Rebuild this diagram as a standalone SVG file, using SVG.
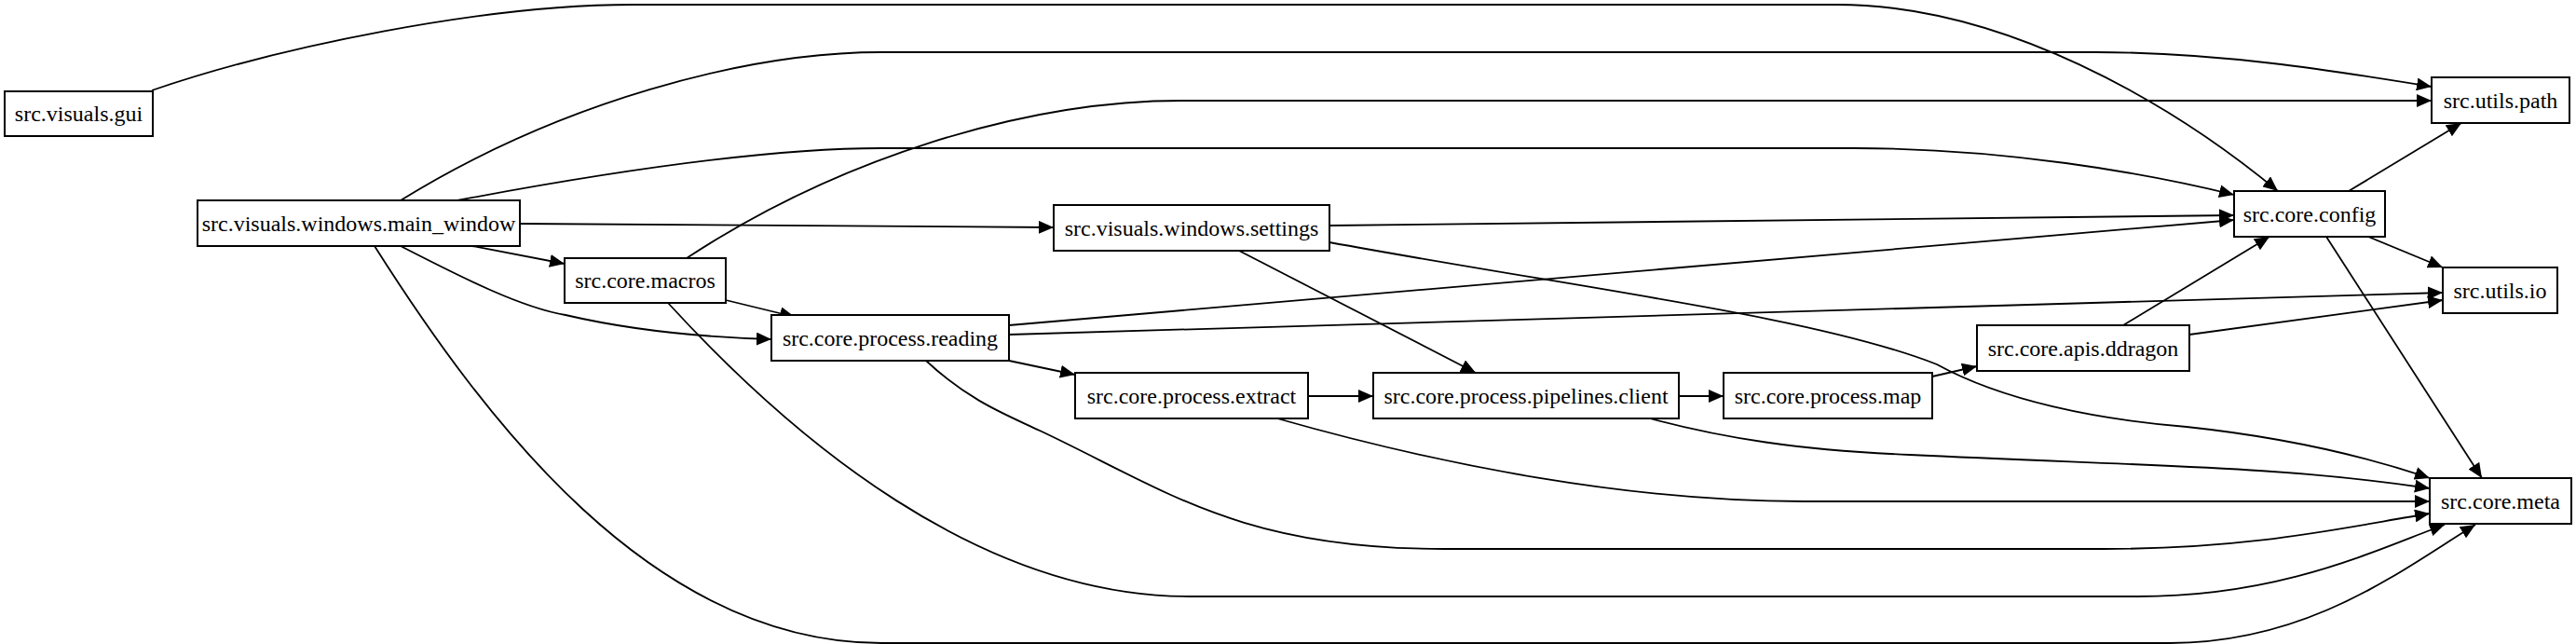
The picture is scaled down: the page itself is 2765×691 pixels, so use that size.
<svg xmlns="http://www.w3.org/2000/svg" width="2765" height="691" viewBox="0 0 2765 691">
<style>
.n rect{fill:#fff;stroke:#000;stroke-width:2}
.n text{font-family:"Liberation Serif","DejaVu Serif",serif;font-size:24px;text-anchor:middle;dominant-baseline:central}
#edges path{fill:none;stroke:#000;stroke-width:1.8;marker-end:url(#a)}
</style>
<defs><marker id="a" markerUnits="userSpaceOnUse" markerWidth="18" markerHeight="14" refX="16" refY="7" orient="auto"><path d="M0,0 L16,7 L0,14 z" fill="#000"/></marker></defs>
<rect width="2765" height="691" fill="#fff"/>
<g id="edges">
<path d="M163,97 C300,50 520,5 679,5 L1972,5 C2150,5 2330,110 2445,205"/>
<path d="M430,215 C600,110 800,56 946,56 L2249,56 C2380,56 2500,75 2610,93"/>
<path d="M737,277 C900,170 1100,108 1268,108 L2610,108"/>
<path d="M491,215 C650,185 820,159 946,159 L1990,159 C2150,159 2300,185 2398,209"/>
<path d="M558,240 L1131,244"/>
<path d="M507,264 L606,283"/>
<path d="M430,264 C500,300 560,330 607,338 C680,355 760,362 828,364"/>
<path d="M402,264 C520,450 700,690 946,690 L2329,690 C2480,690 2580,610 2657,563"/>
<path d="M779,322 L853,340"/>
<path d="M717,325 C850,470 1050,640 1277,640 L2294,640 C2450,640 2550,590 2624,563"/>
<path d="M1427,242 L2398,231"/>
<path d="M1427,260 C1700,310 1950,340 2079,391 C2150,430 2250,450 2347,458 C2460,470 2540,490 2608,513"/>
<path d="M1330,269 L1584,400"/>
<path d="M1083,349 L2398,236"/>
<path d="M1083,359 L2622,314"/>
<path d="M1083,387 L1154,402"/>
<path d="M994,387 C1040,430 1080,445 1116,462 C1250,525 1330,589 1550,589 L2258,589 C2420,589 2520,565 2608,551"/>
<path d="M1371,449 C1550,500 1750,538 1936,538 L2608,538"/>
<path d="M1771,449 C1850,470 1930,483 2050,488 C2300,500 2450,500 2608,524"/>
<path d="M1404,425 L1474,425"/>
<path d="M1802,425 L1850,425"/>
<path d="M2074,404 L2122,393"/>
<path d="M2279,349 L2436,254"/>
<path d="M2350,359 L2622,322"/>
<path d="M2521,205 L2642,132"/>
<path d="M2542,254 L2622,287"/>
<path d="M2497,254 L2664,513"/>
</g>
<g id="gui" class="n"><rect x="5" y="98" width="159" height="48"/><text x="84.5" y="122">src.visuals.gui</text></g>
<g id="main_window" class="n"><rect x="212" y="215" width="346" height="49"/><text x="385" y="239.5">src.visuals.windows.main_window</text></g>
<g id="settings" class="n"><rect x="1131" y="220" width="296" height="49"/><text x="1279" y="244.5">src.visuals.windows.settings</text></g>
<g id="macros" class="n"><rect x="606" y="277" width="173" height="48"/><text x="692.5" y="301">src.core.macros</text></g>
<g id="reading" class="n"><rect x="828" y="338" width="255" height="49"/><text x="955.5" y="362.5">src.core.process.reading</text></g>
<g id="extract" class="n"><rect x="1154" y="400" width="250" height="49"/><text x="1279" y="424.5">src.core.process.extract</text></g>
<g id="pipelines" class="n"><rect x="1474" y="400" width="328" height="49"/><text x="1638" y="424.5">src.core.process.pipelines.client</text></g>
<g id="map" class="n"><rect x="1850" y="400" width="224" height="49"/><text x="1962" y="424.5">src.core.process.map</text></g>
<g id="ddragon" class="n"><rect x="2122" y="349" width="228" height="49"/><text x="2236" y="373.5">src.core.apis.ddragon</text></g>
<g id="config" class="n"><rect x="2398" y="205" width="162" height="49"/><text x="2479" y="229.5">src.core.config</text></g>
<g id="path" class="n"><rect x="2610" y="83" width="148" height="49"/><text x="2684" y="107.5">src.utils.path</text></g>
<g id="io" class="n"><rect x="2622" y="287" width="123" height="49"/><text x="2683.5" y="311.5">src.utils.io</text></g>
<g id="meta" class="n"><rect x="2608" y="513" width="152" height="49"/><text x="2684" y="537.5">src.core.meta</text></g>
</svg>
